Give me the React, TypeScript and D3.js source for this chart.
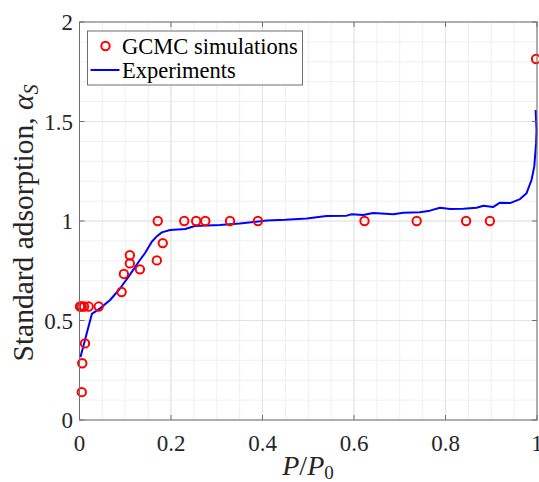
import React from "react";
import * as d3 from "d3";

// GCMC simulation points (relative pressure, standard adsorption)
const simP = [0.005, 0.006, 0.012, 0.001, 0.005, 0.010, 0.020, 0.042, 0.092, 0.097, 0.110, 0.110, 0.132, 0.169, 0.171, 0.182, 0.229, 0.255, 0.275, 0.329, 0.390, 0.623, 0.737, 0.845, 0.897, 0.998];
const simA = [0.14, 0.285, 0.385, 0.57, 0.57, 0.57, 0.57, 0.57, 0.643, 0.734, 0.828, 0.787, 0.757, 0.802, 1.0, 0.889, 1.0, 1.0, 1.0, 1.0, 1.0, 1.0, 1.0, 1.0, 1.0, 1.814];

// Experimental curve
const expP = [0.002, 0.027, 0.045, 0.067, 0.089, 0.110, 0.132, 0.143, 0.158, 0.170, 0.180, 0.198, 0.231, 0.252, 0.264, 0.307, 0.350, 0.409, 0.450, 0.497, 0.540, 0.584, 0.595, 0.620, 0.642, 0.686, 0.708, 0.744, 0.766, 0.788, 0.810, 0.839, 0.868, 0.883, 0.904, 0.919, 0.941, 0.963, 0.977, 0.988, 0.994, 0.998, 0.999, 0.997];
const expA = [0.315, 0.533, 0.561, 0.603, 0.662, 0.729, 0.804, 0.838, 0.896, 0.925, 0.943, 0.955, 0.960, 0.975, 0.976, 0.980, 0.988, 1.002, 1.006, 1.013, 1.025, 1.027, 1.034, 1.030, 1.040, 1.034, 1.042, 1.044, 1.052, 1.067, 1.060, 1.062, 1.067, 1.077, 1.070, 1.092, 1.090, 1.110, 1.139, 1.206, 1.273, 1.39, 1.457, 1.558];

const xTicks = [0, 0.2, 0.4, 0.6, 0.8, 1];
const yTicks = [0, 0.5, 1, 1.5, 2];
const xTickLabels = ["0", "0.2", "0.4", "0.6", "0.8", "1"];
const yTickLabels = ["0", "0.5", "1", "1.5", "2"];

const W = 539;
const H = 482;
const FONT = "'Liberation Serif', 'Times New Roman', serif";

export default function App() {
  const x = d3.scaleLinear().domain([0, 1]).range([79.5, 537]);
  const y = d3.scaleLinear().domain([0, 2]).range([420, 22]);
  const [x0, x1] = x.range();
  const [y0, y1] = y.range();

  const minorX = d3.range(0, 1.0001, 0.05);
  const minorY = d3.range(0, 2.0001, 0.1);

  const line = d3
    .line<number>()
    .x((_, i) => x(expP[i]))
    .y((_, i) => y(expA[i]));

  const axisColor = "#6e6e6e";
  const tickLen = 5;

  return (
    <svg
      width={W}
      height={H}
      style={{ position: "fixed", left: 0, top: 0, background: "#fff" }}
      fontFamily={FONT}
    >
      <rect x={0} y={0} width={W} height={H} fill="#fff" />
      {/* grid */}
      <g>
        {minorX.map((v, i) => (
          <line key={"gx" + i} x1={x(v)} x2={x(v)} y1={y0} y2={y1} stroke="#efefef" strokeWidth={1} />
        ))}
        {minorY.map((v, i) => (
          <line key={"gy" + i} x1={x0} x2={x1} y1={y(v)} y2={y(v)} stroke="#efefef" strokeWidth={1} />
        ))}
        {xTicks.map((v, i) => (
          <line key={"Gx" + i} x1={x(v)} x2={x(v)} y1={y0} y2={y1} stroke="#e2e2e2" strokeWidth={1} />
        ))}
        {yTicks.map((v, i) => (
          <line key={"Gy" + i} x1={x0} x2={x1} y1={y(v)} y2={y(v)} stroke="#e2e2e2" strokeWidth={1} />
        ))}
      </g>

      {/* experiment curve */}
      <path d={line(expP) || ""} fill="none" stroke="#0000ff" strokeWidth={2} strokeLinejoin="round" />

      {/* simulation markers */}
      {simP.map((p, i) => (
        <circle key={"s" + i} cx={x(p)} cy={y(simA[i])} r={4.2} fill="none" stroke="#ff0000" strokeWidth={2} />
      ))}

      {/* axes box and ticks */}
      <rect x={x0} y={y1} width={x1 - x0} height={y0 - y1} fill="none" stroke={axisColor} strokeWidth={1} />
      {xTicks.map((v, i) => (
        <g key={"xt" + i}>
          <line x1={x(v)} x2={x(v)} y1={y0} y2={y0 - tickLen} stroke={axisColor} />
          <line x1={x(v)} x2={x(v)} y1={y1} y2={y1 + tickLen} stroke={axisColor} />
          <text x={x(v)} y={451} textAnchor="middle" fontSize={23} fill="#262626">
            {xTickLabels[i]}
          </text>
        </g>
      ))}
      {yTicks.map((v, i) => (
        <g key={"yt" + i}>
          <line x1={x0} x2={x0 + tickLen} y1={y(v)} y2={y(v)} stroke={axisColor} />
          <line x1={x1} x2={x1 - tickLen} y1={y(v)} y2={y(v)} stroke={axisColor} />
          <text x={73} y={y(v) + 8} textAnchor="end" fontSize={23} fill="#262626">
            {yTickLabels[i]}
          </text>
        </g>
      ))}

      {/* axis labels */}
      <text x={308} y={475} textAnchor="middle" fontSize={28} fill="#262626">
        <tspan fontStyle="italic">P</tspan>
        <tspan>/</tspan>
        <tspan fontStyle="italic">P</tspan>
        <tspan fontSize={19} dy={4}>0</tspan>
      </text>
      <text
        transform={`translate(33,223) rotate(-90)`}
        textAnchor="middle"
        fontSize={29.5}
        fill="#262626"
      >
        <tspan>Standard adsorption, </tspan>
        <tspan fontStyle="italic">α</tspan>
        <tspan fontStyle="italic" fontSize={20} dy={5}>S</tspan>
      </text>

      {/* legend */}
      <g>
        <rect x={87.5} y={31} width={215} height={54} fill="#fff" stroke={axisColor} strokeWidth={1} />
        <circle cx={105.5} cy={46} r={4.2} fill="none" stroke="#ff0000" strokeWidth={2} />
        <text x={122} y={53.5} fontSize={22.5} fill="#000">GCMC simulations</text>
        <line x1={90.5} x2={119.5} y1={70} y2={70} stroke="#0000ff" strokeWidth={2} />
        <text x={122} y={77.5} fontSize={22.5} fill="#000">Experiments</text>
      </g>
    </svg>
  );
}
